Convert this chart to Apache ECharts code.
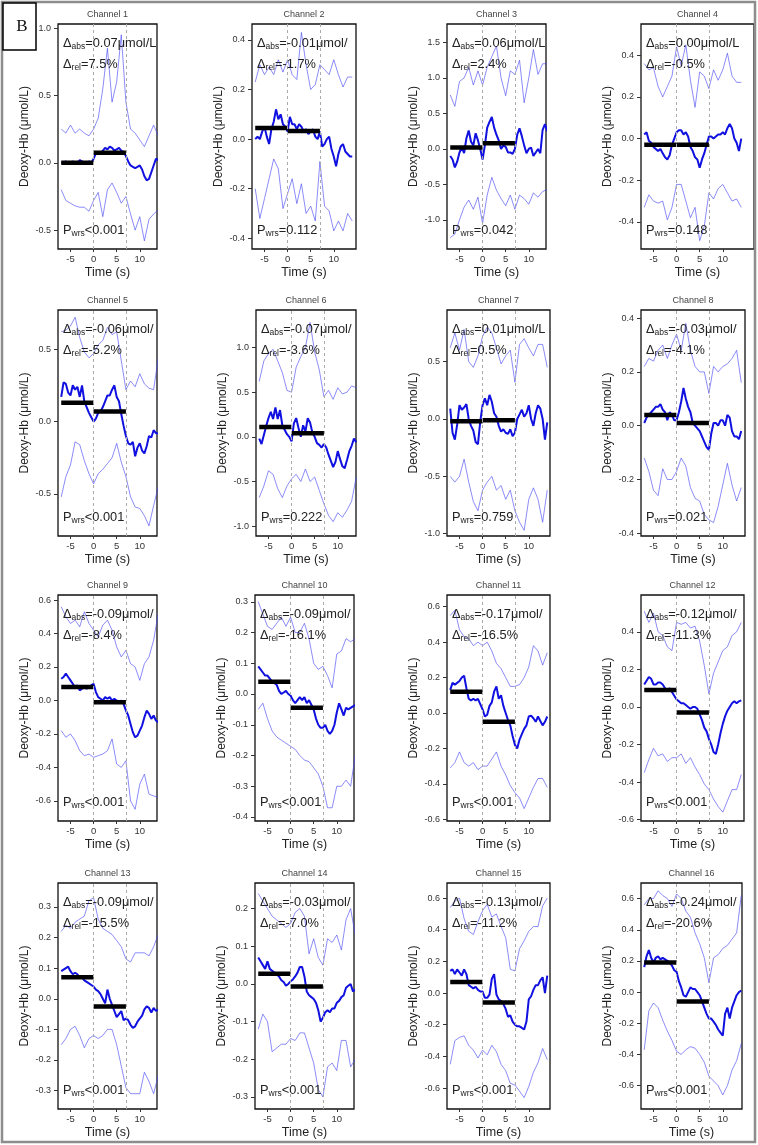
<!DOCTYPE html>
<html><head><meta charset="utf-8">
<script src="https://cdn.jsdelivr.net/npm/echarts@6/dist/echarts.min.js"></script>
<style>html,body{margin:0;padding:0;background:#fff}#c{width:758px;height:1145px}</style>
</head><body><div id="c"></div>
<script>
// ---------------- DATA ----------------
const T_MEAN = [-7,-6.5,-6,-5.5,-5,-4.5,-4,-3.5,-3,-2.5,-2,-1.5,-1,-0.5,0,0.5,1,1.5,2,2.5,3,3.5,4,4.5,5,5.5,6,6.5,7,7.5,8,8.5,9,9.5,10,10.5,11,11.5,12,12.5,13,13.5,14];
const T_BAND = [-7,-6,-5,-4,-3,-2,-1,0,1,2,3,4,5,6,7,8,9,10,11,12,13,14];
const BASE_WINDOW = [-7, 0];
const TASK_WINDOW = [0, 7];
const X_TICKS = [-5, 0, 5, 10];
const CHANNELS = ['Channel 1','Channel 2','Channel 3','Channel 4','Channel 5','Channel 6','Channel 7','Channel 8','Channel 9','Channel 10','Channel 11','Channel 12','Channel 13','Channel 14','Channel 15','Channel 16'];

const mean1 = [0.0,0.0,0.01,-0.01,0.0,0.01,-0.01,0.0,0.02,0.01,0.0,-0.01,0.01,0.0,0.03,0.07,0.08,0.07,0.09,0.11,0.1,0.12,0.11,0.09,0.1,0.11,0.09,0.08,0.05,0.01,-0.02,-0.03,-0.04,-0.03,-0.02,-0.05,-0.1,-0.13,-0.12,-0.07,-0.02,0.03,0.02];
const upper1 = [0.25,0.22,0.28,0.22,0.25,0.22,0.2,0.25,0.33,0.55,0.85,0.45,0.6,0.95,0.45,0.25,0.22,0.17,0.12,0.2,0.28,0.2];
const lower1 = [-0.2,-0.28,-0.3,-0.32,-0.33,-0.33,-0.36,-0.28,-0.22,-0.4,-0.2,-0.15,-0.22,-0.3,-0.25,-0.38,-0.5,-0.4,-0.58,-0.42,-0.38,-0.35];

const mean2 = [0.0,0.01,0.0,0.03,0.05,0.01,-0.02,0.04,0.07,0.12,0.08,0.1,0.06,0.05,0.03,0.09,0.06,0.06,0.04,0.06,0.05,0.03,0.04,0.02,0.03,0.04,0.01,0.0,0.03,-0.03,-0.02,0.0,0.01,-0.04,-0.07,-0.11,-0.06,-0.03,-0.02,-0.05,-0.06,-0.07,-0.07];
const upper2 = [0.23,0.3,0.26,0.29,0.26,0.32,0.27,0.32,0.26,0.24,0.43,0.3,0.2,0.22,0.3,0.28,0.26,0.32,0.26,0.21,0.25,0.25];
const lower2 = [-0.2,-0.32,-0.24,-0.16,-0.08,-0.12,-0.28,-0.22,-0.16,-0.26,-0.18,-0.3,-0.27,-0.33,-0.09,-0.27,-0.29,-0.37,-0.33,-0.37,-0.3,-0.33];

const mean3 = [-0.1,-0.15,-0.26,-0.18,-0.05,0.02,-0.06,0.15,0.26,0.1,0.05,0.22,0.12,0.0,-0.15,0.05,0.3,0.38,0.45,0.3,0.2,0.12,0.0,0.05,0.03,-0.05,-0.05,-0.07,0.0,0.2,0.29,0.18,0.05,-0.06,0.0,0.02,-0.1,-0.05,0.0,-0.06,0.27,0.35,0.25];
const upper3 = [0.76,0.6,0.95,1.0,1.15,0.9,1.1,0.9,1.15,1.3,1.45,1.0,0.75,1.1,1.05,1.25,0.65,1.0,1.4,1.05,1.2,1.2];
const lower3 = [-1.25,-1.2,-1.0,-0.82,-0.72,-0.85,-0.68,-1.05,-0.65,-0.4,-0.58,-0.7,-0.8,-0.65,-0.85,-0.65,-0.7,-0.78,-0.62,-0.68,-0.6,-0.57];

const mean4 = [0.02,0.03,-0.01,-0.02,-0.04,-0.05,-0.06,-0.05,-0.07,-0.09,-0.1,-0.08,-0.03,0.0,0.03,0.04,0.04,0.02,0.03,0.01,-0.04,-0.06,-0.09,-0.1,-0.14,-0.1,-0.07,-0.03,0.01,0.01,0.0,0.01,0.02,0.02,0.03,0.02,0.05,0.07,0.05,0.0,-0.02,-0.06,0.0];
const upper4 = [0.36,0.33,0.34,0.25,0.2,0.25,0.3,0.44,0.35,0.45,0.28,0.15,0.32,0.3,0.24,0.33,0.28,0.33,0.41,0.3,0.27,0.27];
const lower4 = [-0.33,-0.27,-0.3,-0.31,-0.3,-0.39,-0.33,-0.22,-0.22,-0.3,-0.38,-0.33,-0.49,-0.42,-0.26,-0.29,-0.24,-0.22,-0.26,-0.3,-0.29,-0.33];

const mean5 = [0.17,0.27,0.26,0.2,0.18,0.25,0.22,0.24,0.17,0.25,0.14,0.1,0.06,0.03,0.0,0.02,0.06,0.07,0.1,0.14,0.18,0.18,0.22,0.25,0.17,0.14,0.05,-0.03,-0.1,-0.15,-0.16,-0.14,-0.24,-0.18,-0.15,-0.2,-0.22,-0.17,-0.1,-0.11,-0.06,-0.08,-0.08];
const upper5 = [0.62,0.63,0.66,0.72,0.58,0.48,0.44,0.47,0.53,0.56,0.65,0.6,0.62,0.42,0.22,0.28,0.24,0.33,0.26,0.23,0.22,0.44];
const lower5 = [-0.52,-0.38,-0.3,-0.14,-0.16,-0.27,-0.36,-0.43,-0.36,-0.33,-0.29,-0.25,-0.15,-0.28,-0.38,-0.52,-0.59,-0.6,-0.65,-0.72,-0.58,-0.45];

const mean6 = [-0.02,-0.08,0.02,0.12,0.21,0.28,0.2,0.33,0.2,0.3,0.13,0.08,0.03,0.0,-0.05,0.15,0.21,0.1,0.0,0.13,0.06,0.21,0.16,0.05,0.0,-0.07,-0.09,-0.12,-0.08,-0.12,-0.2,-0.27,-0.34,-0.28,-0.16,-0.25,-0.33,-0.35,-0.26,-0.16,-0.1,-0.02,-0.06];
const upper6 = [0.62,0.85,0.93,0.98,0.85,0.72,0.52,0.5,0.78,0.9,1.0,1.28,0.95,0.75,0.45,0.52,0.42,0.55,0.48,0.5,0.57,0.55];
const lower6 = [-0.68,-0.55,-0.38,-0.42,-0.58,-0.68,-0.55,-0.47,-0.42,-0.5,-0.36,-0.5,-0.45,-0.6,-0.75,-0.88,-0.95,-0.85,-0.9,-0.82,-0.72,-0.45];

const mean7 = [0.09,-0.12,-0.18,-0.05,0.12,0.08,0.1,0.13,0.0,-0.06,-0.1,-0.2,-0.22,-0.02,0.12,0.18,0.12,0.21,0.15,0.05,0.02,-0.06,-0.11,-0.09,-0.12,-0.13,-0.09,-0.15,-0.12,0.0,0.04,0.08,0.02,0.05,0.12,0.0,-0.06,0.05,0.12,0.09,0.0,-0.18,-0.03];
const upper7 = [0.62,0.75,0.6,0.78,0.5,0.45,0.55,0.72,0.8,0.75,0.62,0.48,0.55,0.6,0.32,0.65,0.7,0.62,0.55,0.65,0.65,0.45];
const lower7 = [-0.5,-0.55,-0.5,-0.35,-0.55,-0.72,-0.8,-0.62,-0.55,-0.5,-0.62,-0.58,-0.7,-0.62,-0.8,-0.9,-0.97,-0.7,-0.6,-0.7,-0.9,-0.62];

const mean8 = [0.01,0.03,0.04,0.05,0.06,0.07,0.07,0.08,0.06,0.05,0.02,0.05,0.04,0.02,0.02,0.05,0.09,0.14,0.1,0.07,0.05,0.01,0.0,-0.01,-0.02,-0.04,-0.06,-0.08,-0.09,-0.03,0.01,0.01,0.0,0.02,0.02,0.0,0.04,0.03,-0.02,-0.04,-0.04,-0.05,-0.02];
const upper8 = [0.22,0.25,0.24,0.28,0.3,0.25,0.3,0.34,0.28,0.38,0.28,0.22,0.2,0.2,0.12,0.22,0.2,0.22,0.23,0.25,0.28,0.16];
const lower8 = [-0.12,-0.17,-0.24,-0.26,-0.16,-0.2,-0.2,-0.17,-0.12,-0.15,-0.23,-0.27,-0.28,-0.33,-0.35,-0.36,-0.3,-0.22,-0.14,-0.22,-0.28,-0.23];

const mean9 = [0.13,0.14,0.16,0.14,0.12,0.1,0.08,0.09,0.06,0.07,0.08,0.07,0.08,0.09,0.1,0.05,0.02,0.01,0.0,0.02,0.01,0.02,0.0,0.01,0.0,-0.01,0.0,-0.02,-0.06,-0.09,-0.14,-0.19,-0.22,-0.21,-0.18,-0.15,-0.1,-0.06,-0.08,-0.11,-0.09,-0.12,-0.13];
const upper9 = [0.56,0.5,0.46,0.48,0.44,0.53,0.46,0.42,0.38,0.45,0.48,0.42,0.32,0.26,0.3,0.22,0.2,0.12,0.22,0.26,0.36,0.52];
const lower9 = [-0.18,-0.22,-0.2,-0.24,-0.3,-0.33,-0.32,-0.34,-0.33,-0.32,-0.3,-0.23,-0.38,-0.4,-0.36,-0.6,-0.65,-0.5,-0.44,-0.56,-0.57,-0.58];

const mean10 = [0.09,0.08,0.07,0.06,0.06,0.05,0.04,0.035,0.03,0.01,0.0,0.005,0.01,0.0,-0.005,-0.02,-0.03,-0.02,-0.01,-0.02,-0.01,-0.03,-0.02,-0.035,-0.05,-0.08,-0.1,-0.11,-0.11,-0.1,-0.12,-0.13,-0.12,-0.1,-0.06,-0.03,-0.05,-0.07,-0.045,-0.05,-0.045,-0.04,-0.036];
const upper10 = [0.3,0.26,0.22,0.21,0.23,0.25,0.22,0.25,0.2,0.2,0.23,0.18,0.1,0.08,0.09,0.06,0.02,0.13,0.14,0.18,0.17,0.18];
const lower10 = [-0.05,-0.03,-0.08,-0.12,-0.14,-0.15,-0.16,-0.17,-0.18,-0.2,-0.215,-0.22,-0.24,-0.26,-0.3,-0.37,-0.37,-0.3,-0.3,-0.28,-0.3,-0.2];

const mean11 = [0.13,0.17,0.16,0.17,0.18,0.2,0.21,0.14,0.08,0.07,0.08,0.07,0.08,0.05,0.02,-0.02,-0.01,0.04,0.06,0.12,0.15,0.08,0.1,0.04,0.0,-0.04,-0.07,-0.13,-0.18,-0.2,-0.15,-0.12,-0.09,-0.07,-0.02,-0.015,-0.03,-0.05,-0.02,-0.045,-0.07,-0.05,-0.02];
const upper11 = [0.55,0.58,0.47,0.43,0.42,0.38,0.4,0.38,0.4,0.35,0.28,0.25,0.2,0.15,0.15,0.16,0.2,0.26,0.38,0.35,0.27,0.34];
const lower11 = [-0.31,-0.28,-0.22,-0.28,-0.3,-0.28,-0.32,-0.3,-0.3,-0.26,-0.22,-0.3,-0.35,-0.41,-0.45,-0.48,-0.54,-0.48,-0.42,-0.37,-0.37,-0.42];

const mean12 = [0.12,0.14,0.16,0.15,0.12,0.12,0.13,0.13,0.12,0.1,0.09,0.1,0.08,0.06,0.04,0.03,0.02,0.02,0.01,0.0,-0.01,0.0,0.0,-0.01,-0.04,-0.07,-0.11,-0.13,-0.17,-0.2,-0.24,-0.25,-0.2,-0.14,-0.09,-0.05,-0.02,0.0,0.02,0.03,0.02,0.03,0.035];
const upper12 = [0.51,0.45,0.5,0.4,0.38,0.32,0.3,0.45,0.44,0.45,0.42,0.43,0.35,0.22,0.07,0.18,0.24,0.3,0.32,0.38,0.4,0.45];
const lower12 = [-0.35,-0.28,-0.22,-0.26,-0.25,-0.29,-0.27,-0.27,-0.25,-0.3,-0.27,-0.32,-0.36,-0.41,-0.44,-0.49,-0.53,-0.56,-0.5,-0.44,-0.44,-0.36];

const mean13 = [0.09,0.095,0.1,0.105,0.09,0.08,0.085,0.08,0.07,0.07,0.06,0.055,0.05,0.045,0.04,0.03,0.025,0.015,0.0,-0.015,0.03,0.0,-0.02,-0.04,-0.06,-0.05,-0.04,-0.07,-0.065,-0.07,-0.085,-0.095,-0.09,-0.075,-0.065,-0.055,-0.035,-0.025,-0.03,-0.045,-0.03,-0.04,-0.035];
const upper13 = [0.22,0.24,0.23,0.25,0.26,0.27,0.32,0.33,0.26,0.23,0.22,0.21,0.19,0.17,0.13,0.12,0.15,0.15,0.15,0.14,0.17,0.21];
const lower13 = [-0.15,-0.13,-0.1,-0.09,-0.12,-0.16,-0.13,-0.12,-0.13,-0.12,-0.1,-0.1,-0.15,-0.22,-0.29,-0.31,-0.31,-0.31,-0.24,-0.27,-0.31,-0.25];

const mean14 = [0.07,0.06,0.05,0.04,0.06,0.04,0.035,0.03,0.025,0.02,0.01,0.005,-0.005,0.0,0.007,0.012,0.02,0.03,0.045,0.045,0.02,-0.02,-0.03,-0.035,-0.04,-0.05,-0.07,-0.1,-0.09,-0.075,-0.07,-0.075,-0.065,-0.065,-0.05,-0.045,-0.035,-0.03,-0.01,-0.005,0.0,-0.02,-0.015];
const upper14 = [0.24,0.22,0.2,0.18,0.17,0.16,0.15,0.16,0.19,0.2,0.18,0.08,0.12,0.07,0.05,0.12,0.11,0.13,0.09,0.17,0.2,0.13];
const lower14 = [-0.12,-0.08,-0.1,-0.18,-0.17,-0.16,-0.16,-0.145,-0.15,-0.13,-0.13,-0.17,-0.21,-0.28,-0.3,-0.22,-0.21,-0.23,-0.15,-0.15,-0.22,-0.2];

const mean15 = [0.14,0.15,0.12,0.15,0.13,0.11,0.15,0.12,0.05,0.04,0.03,0.04,0.02,0.01,0.01,-0.03,-0.03,-0.01,0.09,0.12,-0.01,-0.04,-0.05,-0.07,-0.1,-0.15,-0.14,-0.18,-0.2,-0.21,-0.21,-0.22,-0.23,-0.18,-0.04,-0.02,0.02,0.05,0.05,0.08,0.1,0.0,0.11];
const upper15 = [0.54,0.58,0.6,0.47,0.39,0.37,0.45,0.52,0.56,0.48,0.5,0.42,0.35,0.15,0.14,0.28,0.33,0.39,0.42,0.42,0.55,0.6];
const lower15 = [-0.45,-0.3,-0.28,-0.27,-0.33,-0.36,-0.41,-0.36,-0.39,-0.33,-0.37,-0.45,-0.49,-0.57,-0.58,-0.62,-0.66,-0.59,-0.5,-0.44,-0.35,-0.42];

const mean16 = [0.16,0.23,0.27,0.22,0.19,0.22,0.23,0.21,0.22,0.21,0.2,0.19,0.17,0.14,0.13,0.07,0.03,-0.02,-0.03,0.0,0.03,0.02,0.02,0.0,-0.02,-0.06,-0.1,-0.14,-0.17,-0.17,-0.19,-0.21,-0.24,-0.26,-0.28,-0.14,-0.1,-0.17,-0.1,-0.06,-0.02,0.0,0.01];
const upper16 = [0.56,0.6,0.6,0.65,0.62,0.6,0.55,0.63,0.6,0.52,0.48,0.38,0.31,0.22,0.06,0.22,0.24,0.28,0.3,0.34,0.38,0.62];
const lower16 = [-0.37,-0.12,-0.07,-0.1,-0.18,-0.25,-0.31,-0.38,-0.4,-0.37,-0.35,-0.36,-0.4,-0.45,-0.54,-0.57,-0.6,-0.66,-0.6,-0.5,-0.44,-0.33];

const BASE_LEVEL = [0.0,0.045,0.02,-0.03,0.13,0.11,-0.02,0.04,0.08,0.04,0.12,0.09,0.07,0.027,0.07,0.19];
const TASK_LEVEL = [0.075,0.033,0.08,-0.03,0.07,0.04,-0.01,0.01,-0.01,-0.045,-0.05,-0.03,-0.025,-0.007,-0.06,-0.06];

const ABS_TXT = ['=0.07μmol/L','=-0.01μmol/','=0.06μmol/L','=0.00μmol/L','=-0.06μmol/','=-0.07μmol/','=0.01μmol/L','=-0.03μmol/','=-0.09μmol/','=-0.09μmol/','=-0.17μmol/','=-0.12μmol/','=-0.09μmol/','=-0.03μmol/','=-0.13μmol/','=-0.24μmol/'];
const REL_TXT = ['=7.5%','=-1.7%','=2.4%','=-0.5%','=-5.2%','=-3.6%','=0.5%','=-4.1%','=-8.4%','=-16.1%','=-16.5%','=-11.3%','=-15.5%','=-7.0%','=-11.2%','=-20.6%'];
const P_TXT = ['<0.001','=0.112','=0.042','=0.148','<0.001','=0.222','=0.759','=0.021','<0.001','<0.001','<0.001','<0.001','<0.001','<0.001','<0.001','<0.001'];

const Y_TICKS = [
  [-0.5,0,0.5,1],[-0.4,-0.2,0,0.2,0.4],[-1,-0.5,0,0.5,1,1.5],[-0.4,-0.2,0,0.2,0.4],
  [-0.5,0,0.5],[-1,-0.5,0,0.5,1],[-1,-0.5,0,0.5],[-0.4,-0.2,0,0.2,0.4],
  [-0.6,-0.4,-0.2,0,0.2,0.4,0.6],[-0.4,-0.3,-0.2,-0.1,0,0.1,0.2,0.3],[-0.6,-0.4,-0.2,0,0.2,0.4,0.6],[-0.6,-0.4,-0.2,0,0.2,0.4],
  [-0.3,-0.2,-0.1,0,0.1,0.2,0.3],[-0.3,-0.2,-0.1,0,0.1,0.2],[-0.6,-0.4,-0.2,0,0.2,0.4,0.6],[-0.6,-0.4,-0.2,0,0.2,0.4,0.6]
];
const Y_MIN = [-0.64,-0.443,-1.41,-0.53,-0.79,-1.11,-1.02,-0.41,-0.72,-0.413,-0.61,-0.607,-0.36,-0.332,-0.732,-0.75];
const Y_MAX = [1.03,0.464,1.76,0.55,0.77,1.42,0.95,0.43,0.63,0.322,0.666,0.596,0.378,0.268,0.695,0.70];

const MEANS = [mean1,mean2,mean3,mean4,mean5,mean6,mean7,mean8,mean9,mean10,mean11,mean12,mean13,mean14,mean15,mean16];
const UPPERS = [upper1,upper2,upper3,upper4,upper5,upper6,upper7,upper8,upper9,upper10,upper11,upper12,upper13,upper14,upper15,upper16];
const LOWERS = [lower1,lower2,lower3,lower4,lower5,lower6,lower7,lower8,lower9,lower10,lower11,lower12,lower13,lower14,lower15,lower16];

// ---------------- LAYOUT ----------------
const BOX = [
  [58,24,99,225],[252,24,104,225],[447,24,99,225],[641,24,113,225],
  [58,310,99,226],[256,310,100,226],[447,310,103,226],[641,310,104,226],
  [58,595,99,226],[255,595,99,226],[447,595,103,226],[641,595,103,226],
  [58,883,99,226],[255,883,99,226],[447,883,103,226],[641,883,101,226]
];
const X_MIN = -7.7, PX_PER_S = 4.62;
const FONT = "'Liberation Sans', Arial, Helvetica, sans-serif";
const MEAN_COLOR = '#1010e0';
const BAND_COLOR = 'rgba(70,70,245,0.62)';

const option = {animation:false, backgroundColor:'#fff', grid:[], xAxis:[], yAxis:[], series:[], graphic:[]};

const rich = {
  m:{fontSize:12.8, fontFamily:FONT, fill:'#222', color:'#222', lineHeight:16},
  s:{fontSize:8.5, fontFamily:FONT, fill:'#222', color:'#222', lineHeight:8, verticalAlign:'bottom'}
};
function richLabel(main, sub, rest){ return '{m|'+main+'}{s|'+sub+'}{m|'+rest+'}'; }

for (let i=0;i<16;i++){
  const [l,t,w,h] = BOX[i];
  option.grid.push({left:l, top:t, width:w, height:h, show:true, borderColor:'#111', borderWidth:1.3, backgroundColor:'rgba(0,0,0,0)'});
  option.xAxis.push({
    type:'value', gridIndex:i, position:'bottom', min:X_MIN, max:X_MIN + w/PX_PER_S,
    splitLine:{show:false}, axisLine:{show:false, onZero:false},
    axisTick:{show:true, length:3, customValues:X_TICKS, lineStyle:{color:'#333'}},
    axisLabel:{show:true, customValues:X_TICKS, fontSize:9.5, color:'#333', margin:5, fontFamily:FONT},
    name:'Time (s)', nameLocation:'middle', nameGap:17,
    nameTextStyle:{fontSize:12.5, color:'#222', fontFamily:FONT}
  });
  option.yAxis.push({
    type:'value', gridIndex:i, position:'left', min:Y_MIN[i], max:Y_MAX[i],
    splitLine:{show:false}, axisLine:{show:false, onZero:false},
    axisTick:{show:true, length:4, customValues:Y_TICKS[i], lineStyle:{color:'#333'}},
    axisLabel:{show:true, customValues:Y_TICKS[i], fontSize:9, color:'#333', margin:7, fontFamily:FONT,
      formatter:v=>Number(v).toFixed(1)},
    name:'Deoxy-Hb (μmol/L)', nameLocation:'middle', nameGap:27,
    nameTextStyle:{fontSize:12, color:'#222', fontFamily:FONT}
  });
  const common = {type:'line', xAxisIndex:i, yAxisIndex:i, symbol:'none', silent:true, clip:true};
  option.series.push(Object.assign({}, common, {
    data:T_BAND.map((x,k)=>[x, UPPERS[i][k]]), lineStyle:{width:1, color:BAND_COLOR}, z:2,
    markLine:{silent:true, symbol:['none','none'], label:{show:false},
      lineStyle:{type:[3,3], color:'#aaa', width:1},
      data:TASK_WINDOW.map(x=>({xAxis:x}))}
  }));
  option.series.push(Object.assign({}, common, {
    data:T_BAND.map((x,k)=>[x, LOWERS[i][k]]), lineStyle:{width:1, color:BAND_COLOR}, z:2
  }));
  option.series.push(Object.assign({}, common, {
    data:T_MEAN.map((x,k)=>[x, MEANS[i][k]]), lineStyle:{width:2, color:MEAN_COLOR}, z:3
  }));
  option.series.push(Object.assign({}, common, {
    data:BASE_WINDOW.map(x=>[x, BASE_LEVEL[i]]), lineStyle:{width:4.5, color:'#000', cap:'butt'}, z:4
  }));
  option.series.push(Object.assign({}, common, {
    data:TASK_WINDOW.map(x=>[x, TASK_LEVEL[i]]), lineStyle:{width:4.5, color:'#000', cap:'butt'}, z:4
  }));

  // titles and annotations
  option.graphic.push({type:'text', x:l+w/2, y:t-9, silent:true,
    style:{text:CHANNELS[i], fontSize:9, fontFamily:FONT, fill:'#444', align:'center', verticalAlign:'middle', textAlign:'center', textVerticalAlign:'middle'}});
  option.graphic.push({type:'text', x:l+5, y:t+19, silent:true, z:10,
    style:{text:richLabel('Δ','abs',ABS_TXT[i]), rich:rich, align:'left', verticalAlign:'middle', textAlign:'left', textVerticalAlign:'middle'}});
  option.graphic.push({type:'text', x:l+5, y:t+40, silent:true, z:10,
    style:{text:richLabel('Δ','rel',REL_TXT[i]), rich:rich, align:'left', verticalAlign:'middle', textAlign:'left', textVerticalAlign:'middle'}});
  option.graphic.push({type:'text', x:l+5, y:t+h-19, silent:true, z:10,
    style:{text:richLabel('P','wrs',P_TXT[i]), rich:rich, align:'left', verticalAlign:'middle', textAlign:'left', textVerticalAlign:'middle'}});
}

// frame and panel letter
option.graphic.push({type:'rect', silent:true, z:20, shape:{x:2,y:2,width:753,height:1140}, style:{fill:'none', stroke:'#8d8d8d', lineWidth:2.5}});
option.graphic.push({type:'rect', silent:true, z:21, shape:{x:3,y:3,width:33,height:47}, style:{fill:'#fff', stroke:'#000', lineWidth:1.5}});
option.graphic.push({type:'text', silent:true, z:22, x:22, y:27,
  style:{text:'B', fontSize:17, fontFamily:"'Liberation Serif', 'DejaVu Serif', serif", fill:'#111', align:'center', verticalAlign:'middle', textAlign:'center', textVerticalAlign:'middle'}});

const chart = echarts.init(document.getElementById('c'), null, {renderer:'canvas', width:758, height:1145});
chart.setOption(option);
</script>
</body></html>
